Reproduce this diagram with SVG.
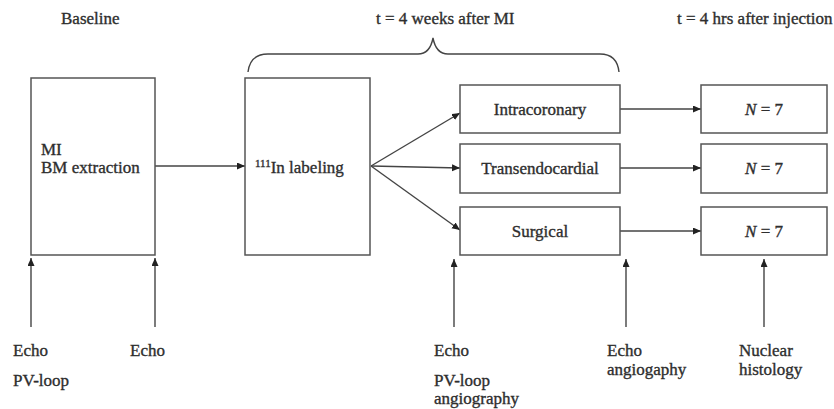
<svg xmlns="http://www.w3.org/2000/svg" width="834" height="409" viewBox="0 0 834 409">
<style>
text{font-family:"Liberation Serif","Times New Roman",serif;font-size:17px;fill:#2e2e2e;stroke:#2e2e2e;stroke-width:0.35}
.box{fill:#fff;stroke:#555;stroke-width:1.5}
.c{text-anchor:middle}
.ln{stroke:#444;stroke-width:1.4;fill:none}
</style>
<defs>
<marker id="ah" markerUnits="userSpaceOnUse" markerWidth="9" markerHeight="8" refX="8" refY="3.5" orient="auto">
<path d="M0,0 L8,3.5 L0,7 z" fill="#222"/>
</marker>
</defs>
<g id="headers">
<text x="61" y="24">Baseline</text>
<text x="376" y="24">t = 4 weeks after MI</text>
<text x="677" y="24">t = 4 hrs after injection</text>
<path class="ln" d="M248,72 Q250,54 268,54 L418,54 Q430,54 433,38 Q436,54 448,54 L600,54 Q617,54 619,72"/>
</g>
<g id="connectors">
<line class="ln" x1="155" y1="166" x2="245" y2="166" marker-end="url(#ah)"/>
<line class="ln" x1="371" y1="166" x2="460" y2="113" marker-end="url(#ah)"/>
<line class="ln" x1="371" y1="166" x2="460" y2="168" marker-end="url(#ah)"/>
<line class="ln" x1="371" y1="166" x2="460" y2="230" marker-end="url(#ah)"/>
<line class="ln" x1="620" y1="109" x2="701" y2="109" marker-end="url(#ah)"/>
<line class="ln" x1="620" y1="168" x2="701" y2="168" marker-end="url(#ah)"/>
<line class="ln" x1="620" y1="231" x2="701" y2="231" marker-end="url(#ah)"/>
<line class="ln" x1="31" y1="327" x2="31" y2="258" marker-end="url(#ah)"/>
<line class="ln" x1="155" y1="327" x2="155" y2="258" marker-end="url(#ah)"/>
<line class="ln" x1="454" y1="327" x2="454" y2="259" marker-end="url(#ah)"/>
<line class="ln" x1="626" y1="327" x2="626" y2="259" marker-end="url(#ah)"/>
<line class="ln" x1="764" y1="327" x2="764" y2="259" marker-end="url(#ah)"/>
</g>
<g id="mi">
<rect class="box" x="31" y="78" width="124" height="177"/>
<text x="41" y="155">MI</text>
<text x="41" y="173">BM extraction</text>
</g>
<g id="labeling">
<rect class="box" x="245" y="78" width="125" height="177"/>
<text x="255" y="173"><tspan font-size="11" dy="-6">111</tspan><tspan dy="6">In labeling</tspan></text>
</g>
<g id="intracoronary">
<rect class="box" x="460" y="85" width="160" height="48"/>
<text class="c" x="540" y="115">Intracoronary</text>
</g>
<g id="transendocardial">
<rect class="box" x="460" y="144" width="160" height="49"/>
<text class="c" x="540" y="174">Transendocardial</text>
</g>
<g id="surgical">
<rect class="box" x="460" y="207" width="160" height="48"/>
<text class="c" x="540" y="237">Surgical</text>
</g>
<g id="n1">
<rect class="box" x="701" y="85" width="126" height="48"/>
<text class="c" x="764" y="115"><tspan font-style="italic">N</tspan> = 7</text>
</g>
<g id="n2">
<rect class="box" x="701" y="144" width="126" height="49"/>
<text class="c" x="764" y="174"><tspan font-style="italic">N</tspan> = 7</text>
</g>
<g id="n3">
<rect class="box" x="701" y="207" width="126" height="48"/>
<text class="c" x="764" y="237"><tspan font-style="italic">N</tspan> = 7</text>
</g>
<g id="labels">
<text x="13" y="356">Echo</text>
<text x="13" y="386">PV-loop</text>
<text x="130" y="356">Echo</text>
<text x="434" y="356">Echo</text>
<text x="434" y="386">PV-loop</text>
<text x="434" y="404">angiography</text>
<text x="607" y="356">Echo</text>
<text x="607" y="375">angiogaphy</text>
<text x="739" y="356">Nuclear</text>
<text x="739" y="375">histology</text>
</g>
</svg>
